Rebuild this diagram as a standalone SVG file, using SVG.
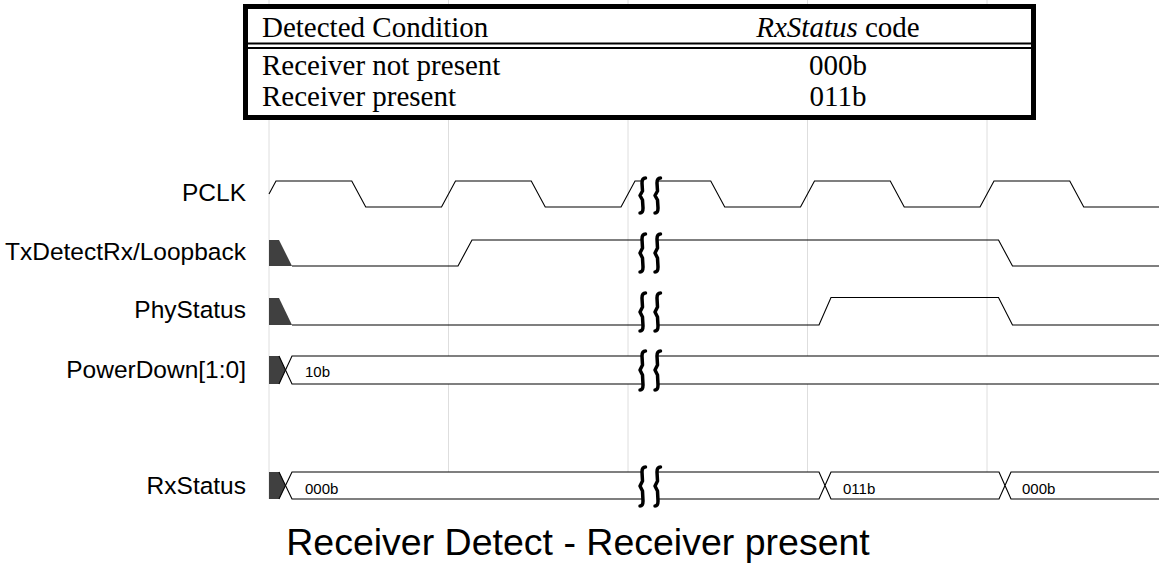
<svg xmlns="http://www.w3.org/2000/svg" width="1159" height="569" viewBox="0 0 1159 569">
<style>
.grid{stroke:#dedede;stroke-width:1;fill:none}
.sig{stroke:#000;stroke-width:1.1;fill:none}
.bus{stroke:#000;stroke-width:1.1;fill:#fff}
.unk{fill:#404040;stroke:none}
.lbl{font-family:"Liberation Sans",Arial,sans-serif;font-size:24.5px;fill:#000;text-anchor:end}
.val{font-family:"Liberation Sans",Arial,sans-serif;font-size:15px;fill:#000}
.tbl{font-family:"Liberation Serif","Times New Roman",serif;font-size:29px;fill:#000}
.brk{stroke:#000;stroke-width:3.5;fill:none;stroke-linecap:round;stroke-linejoin:round}
.title{font-family:"Liberation Sans",Arial,sans-serif;font-size:37.5px;fill:#000;text-anchor:middle}
</style>
<rect width="1159" height="569" fill="#fff"/>
<g id="grid">
<line class="grid" x1="269" y1="0" x2="269" y2="499"/>
<line class="grid" x1="448.5" y1="0" x2="448.5" y2="499"/>
<line class="grid" x1="628" y1="0" x2="628" y2="499"/>
<line class="grid" x1="807.5" y1="0" x2="807.5" y2="499"/>
<line class="grid" x1="987" y1="0" x2="987" y2="499"/>
</g>
<g id="table">
<rect x="245.5" y="6.5" width="788" height="111" fill="#fff" stroke="#000" stroke-width="5"/>
<line x1="248" y1="43.5" x2="1031" y2="43.5" stroke="#000" stroke-width="2"/>
<line x1="248" y1="48" x2="1031" y2="48" stroke="#000" stroke-width="2"/>
<text class="tbl" x="262" y="37">Detected Condition</text>
<text class="tbl" x="838" y="37" text-anchor="middle"><tspan font-style="italic">RxStatus</tspan> code</text>
<text class="tbl" x="262" y="75">Receiver not present</text>
<text class="tbl" x="838" y="75" text-anchor="middle">000b</text>
<text class="tbl" x="262" y="106">Receiver present</text>
<text class="tbl" x="838" y="106" text-anchor="middle">011b</text>
</g>
<g id="labels">
<text class="lbl" x="246" y="201">PCLK</text>
<text class="lbl" x="246" y="260">TxDetectRx/Loopback</text>
<text class="lbl" x="246" y="318">PhyStatus</text>
<text class="lbl" x="246" y="378">PowerDown[1:0]</text>
<text class="lbl" x="246" y="494">RxStatus</text>
</g>
<g id="pclk">
<path class="sig" d="M269 194 L276 181 H351.75 L365.75 207 H441.5 L455.5 181 H531.25 L545.25 207 H621 L635 181 H710.75 L724.75 207 H800.5 L814.5 181 H890.25 L904.25 207 H980 L994 181 H1069.75 L1083.75 207 H1159"/>
</g>
<g id="txdetectrx">
<polygon class="unk" points="269,240 279,240 292,266 269,266"/>
<path class="sig" d="M292 266 H458 L472 240 H998.5 L1012.5 266 H1159"/>
</g>
<g id="phystatus">
<polygon class="unk" points="269,298 279,298 292,325 269,325"/>
<path class="sig" d="M292 325 H819 L831 297.5 H998.5 L1012.5 325 H1159"/>
</g>
<g id="powerdown">
<polygon class="unk" points="269,356 279,356 285.5,370 279,384 269,384"/>
<path class="bus" d="M285.5 370 L292 356 H1160 V384 H292 Z"/>
<path class="sig" d="M279 356 L285.5 370 L279 384"/>
<text class="val" x="305" y="377">10b</text>
</g>
<g id="rxstatus">
<polygon class="unk" points="269,472 279,472 285.5,485.5 279,499 269,499"/>
<path class="bus" d="M285.5 485.5 L292 472 H819 L825 485.5 L819 499 H292 Z"/>
<path class="sig" d="M279 472 L285.5 485.5 L279 499"/>
<path class="bus" d="M825 485.5 L831 472 H999 L1005 485.5 L999 499 H831 Z"/>
<path class="bus" d="M1005 485.5 L1011 472 H1160 V499 H1011 Z"/>
<text class="val" x="305" y="494">000b</text>
<text class="val" x="843" y="494">011b</text>
<text class="val" x="1022" y="494">000b</text>
</g>
<g id="breaks">
<rect x="643" y="176" width="14" height="39" fill="#fff"/>
<rect x="643" y="232" width="14" height="42" fill="#fff"/>
<rect x="643" y="291" width="14" height="42" fill="#fff"/>
<rect x="643" y="349" width="14" height="43" fill="#fff"/>
<rect x="643" y="465" width="14" height="43" fill="#fff"/>
<path class="brk" d="M645.5 178 Q642 178 642 183 L642.5 191 L640 195.5 L642.5 200 L643 208 Q643 213 640 213 M660.5 178 Q657 178 657 183 L657.5 191 L655 195.5 L657.5 200 L658 208 Q658 213 655 213"/>
<path class="brk" d="M645.5 234 Q642 234 642 239 L642.5 248 L640 253 L642.5 258 L643 267 Q643 272 640 272 M660.5 234 Q657 234 657 239 L657.5 248 L655 253 L657.5 258 L658 267 Q658 272 655 272"/>
<path class="brk" d="M645.5 293 Q642 293 642 298 L642.5 307 L640 312 L642.5 317 L643 326 Q643 331 640 331 M660.5 293 Q657 293 657 298 L657.5 307 L655 312 L657.5 317 L658 326 Q658 331 655 331"/>
<path class="brk" d="M645.5 351 Q642 351 642 356 L642.5 365 L640 370 L642.5 375 L643 385 Q643 390 640 390 M660.5 351 Q657 351 657 356 L657.5 365 L655 370 L657.5 375 L658 385 Q658 390 655 390"/>
<path class="brk" d="M645.5 467 Q642 467 642 472 L642.5 481 L640 486 L642.5 491 L643 501 Q643 506 640 506 M660.5 467 Q657 467 657 472 L657.5 481 L655 486 L657.5 491 L658 501 Q658 506 655 506"/>
</g>
<g id="title">
<text class="title" x="578" y="555">Receiver Detect - Receiver present</text>
</g>
</svg>
